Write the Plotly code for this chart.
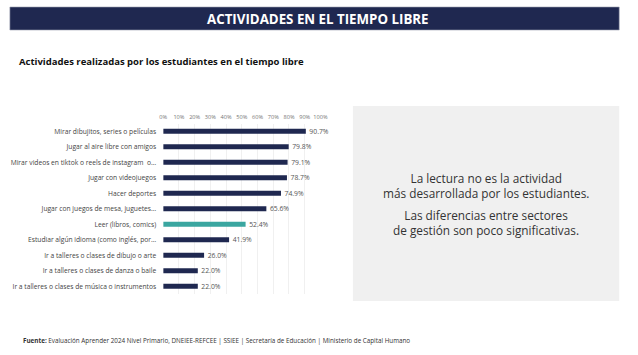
import plotly.graph_objects as go

categories = [
    "Mirar dibujitos, series o películas",
    "Jugar al aire libre con amigos",
    "Mirar videos en tiktok o reels de instagram  o…",
    "Jugar con videojuegos",
    "Hacer deportes",
    "Jugar con juegos de mesa, juguetes…",
    "Leer (libros, comics)",
    "Estudiar algún idioma (como inglés, por…",
    "Ir a talleres o clases de dibujo o arte",
    "Ir a talleres o clases de danza o baile",
    "Ir a talleres o clases de música o instrumentos",
]
values = [90.7, 79.8, 79.1, 78.7, 74.9, 65.6, 52.4, 41.9, 26.0, 22.0, 22.0]
highlight = "Leer (libros, comics)"
tick_vals = [0, 10, 20, 30, 40, 50, 60, 70, 80, 90, 100]
tick_text = [f"{v}%" for v in tick_vals]

W, H = 638, 355
def px(x):
    return x / W
def py(y):
    return 1 - y / H

NAVY = "#1f2850"
TEAL = "#3aa6a0"
colors = [TEAL if c == highlight else NAVY for c in categories]
FONT = "Open Sans"

fig = go.Figure(go.Bar(
    x=values,
    y=categories,
    orientation="h",
    marker=dict(color=colors, line=dict(width=0)),
    text=[f"\u00a0\u00a0{v:.1f}%" for v in values],
    textposition="outside",
    constraintext="none",
    textfont=dict(size=6.8, color="#555555", family=FONT),
    cliponaxis=False,
    width=0.33,
))

fig.update_layout(
    width=W, height=H,
    margin=dict(l=0, r=0, t=0, b=0),
    paper_bgcolor="white",
    plot_bgcolor="white",
    showlegend=False,
    font=dict(family=FONT),
    xaxis=dict(
        domain=[px(162), px(322)],
        range=[0, 100],
        side="top",
        tickvals=tick_vals,
        ticktext=tick_text,
        tickangle=0,
        tickfont=dict(size=5.6, color="#777777"),
        showgrid=True,
        gridcolor="#f0f0f0",
        gridwidth=1,
        zeroline=False,
        showline=False,
        ticks="",
        ticklabelstandoff=2,
        fixedrange=True,
    ),
    yaxis=dict(
        domain=[py(294), py(123.5)],
        autorange="reversed",
        tickfont=dict(size=6.7, color="#444444"),
        ticks="",
        ticklabelstandoff=6,
        showgrid=False,
        zeroline=False,
        showline=False,
        fixedrange=True,
    ),
)

# header band
fig.add_shape(type="rect", xref="paper", yref="paper",
              x0=px(6), x1=px(626), y0=py(30), y1=py(7),
              fillcolor=NAVY, line=dict(width=0.6, color="#9aa0b0"), layer="below")
fig.add_annotation(text="<b>ACTIVIDADES EN EL TIEMPO LIBRE</b>", xref="paper", yref="paper",
                   x=px(319), y=py(18.5), showarrow=False, xanchor="center", yanchor="middle",
                   font=dict(size=13.3, color="white", family=FONT))
# subtitle
fig.add_annotation(text="<b>Actividades realizadas por los estudiantes en el tiempo libre</b>",
                   xref="paper", yref="paper", x=px(13), y=py(62), showarrow=False,
                   xanchor="left", yanchor="middle",
                   font=dict(size=9.5, color="#111111", family=FONT))
# gray box
fig.add_shape(type="rect", xref="paper", yref="paper",
              x0=px(355), x1=px(626), y0=py(301), y1=py(106),
              fillcolor="#f0f0f0", line=dict(width=0), layer="below")
box_paragraphs = [
    ("La lectura no es la actividad<br>más desarrollada por los estudiantes.", 185),
    ("Las diferencias entre sectores<br>de gestión son poco significativas.", 222),
]
for txt, yy in box_paragraphs:
    fig.add_annotation(text=txt, xref="paper", yref="paper", x=px(490.5), y=py(yy),
                       showarrow=False, xanchor="center", yanchor="middle", align="center",
                       font=dict(size=11.8, color="#333333", family=FONT))
# footer
fig.add_annotation(text="<b>Fuente:</b> Evaluación Aprender 2024 Nivel Primario, DNEIEE-REFCEE | SSIEE | Secretaría de Educación | Ministerio de Capital Humano",
                   xref="paper", yref="paper", x=px(17), y=py(340), showarrow=False,
                   xanchor="left", yanchor="middle",
                   font=dict(size=6.3, color="#333333", family=FONT))

fig.write_html("out.html", config={"displayModeBar": False},
               post_script="document.body.style.margin='0';document.body.style.overflow='hidden';")
